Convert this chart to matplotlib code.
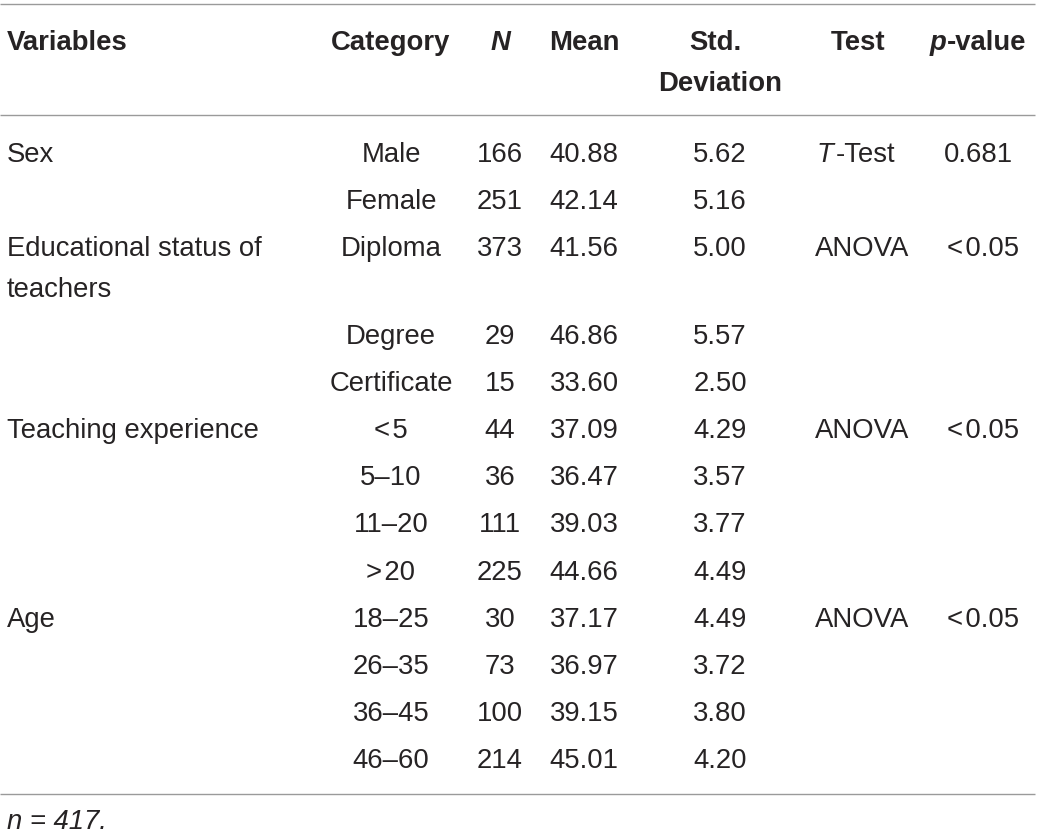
import matplotlib
matplotlib.use("Agg")
import matplotlib.pyplot as plt

# ---- data ----
variables = ["Sex", "", "Educational status of\nteachers", "", "",
             "Teaching experience", "", "", "", "Age", "", "", ""]
categories = ["Male", "Female", "Diploma", "Degree", "Certificate",
              "<\u200a5", "5–10", "11–20", ">\u200a20", "18–25", "26–35", "36–45", "46–60"]
n_values = [166, 251, 373, 29, 15, 44, 36, 111, 225, 30, 73, 100, 214]
means = ["40.88", "42.14", "41.56", "46.86", "33.60", "37.09", "36.47",
         "39.03", "44.66", "37.17", "36.97", "39.15", "45.01"]
std_devs = ["5.62", "5.16", "5.00", "5.57", "2.50", "4.29", "3.57",
            "3.77", "4.49", "4.49", "3.72", "3.80", "4.20"]
tests = ["T-Test", "", "ANOVA", "", "", "ANOVA", "", "", "", "ANOVA", "", "", ""]
p_values = ["0.681", "", "<\u200a0.05", "", "", "<\u200a0.05", "", "", "", "<\u200a0.05", "", "", ""]
footnote = "n = 417."

# ---- layout ----
W, H = 1040, 837
fig = plt.figure(figsize=(W / 100, H / 100), dpi=100)
ax = fig.add_axes([0, 0, 1, 1])
ax.set_xlim(0, W)
ax.set_ylim(H, 0)
ax.axis("off")

FONT = ["Liberation Sans", "DejaVu Sans"]
FS = 19.8
COL = "#262324"
LINE = "#9a9a9a"

x_var = 7
x_cat = 391
x_n = 500
x_mean = 584
x_sd = 720
x_test = 858
x_p = 978

renderer = fig.canvas.get_renderer()


def seg_text(x, y, segs, ha="center", gap=0.0):
    """segs: list of (text, weight, style). Draw consecutively, aligned at x."""
    objs = []
    widths = []
    for s, w, st in segs:
        t = ax.text(0, y, s, fontsize=FS, family=FONT, weight=w, style=st,
                    color=COL, ha="left", va="baseline")
        bb = t.get_window_extent(renderer=renderer)
        objs.append(t)
        widths.append(bb.width)
    total = sum(widths) + gap * (len(objs) - 1)
    start = x - total / 2 if ha == "center" else x
    cur = start
    for t, wd in zip(objs, widths):
        t.set_x(cur)
        cur += wd + gap


def txt(x, y, s, ha="center", weight="normal", style="normal"):
    ax.text(x, y, s, fontsize=FS, family=FONT, weight=weight, style=style,
            color=COL, ha=ha, va="baseline", linespacing=1.05)


# rules
for yl in (5, 116, 795):
    ax.plot([0, 1035], [yl, yl], color=LINE, lw=1.0, solid_capstyle="butt")

# header
hb = 50
txt(x_var, hb, "Variables", ha="left", weight="bold")
txt(x_cat, hb, "Category", weight="bold")
txt(x_n, hb, "N", weight="bold", style="italic")
txt(x_mean, hb, "Mean", weight="bold")
txt(x_sd - 5, hb, "Std.", weight="bold")
txt(x_sd, hb + 41, "Deviation", weight="bold")
txt(x_test, hb, "Test", weight="bold")
seg_text(x_p, hb, [("p", "bold", "italic"), ("-value", "bold", "normal")])

# body
y = 162
step = 47.2
for i in range(len(categories)):
    if variables[i]:
        lines = variables[i].split("\n")
        for k, ln in enumerate(lines):
            txt(x_var, y + 41 * k, ln, ha="left")
    txt(x_cat, y, categories[i])
    txt(x_n, y, str(n_values[i]))
    txt(x_mean, y, means[i])
    txt(x_sd, y, std_devs[i])
    if tests[i].startswith("T-"):
        seg_text(x_test - 2, y, [(tests[i][0], "normal", "italic"),
                                 (tests[i][1:], "normal", "normal")], gap=3)
    elif tests[i]:
        txt(x_test + 4, y, tests[i])
    if p_values[i]:
        txt(x_p + (0 if p_values[i][0] != "<" else 5), y, p_values[i])
    extra = 40 if "\n" in variables[i] else 0
    y += step + extra

# footnote
txt(x_var, 829, footnote, ha="left", style="italic")

fig.savefig("out.png", dpi=100)
